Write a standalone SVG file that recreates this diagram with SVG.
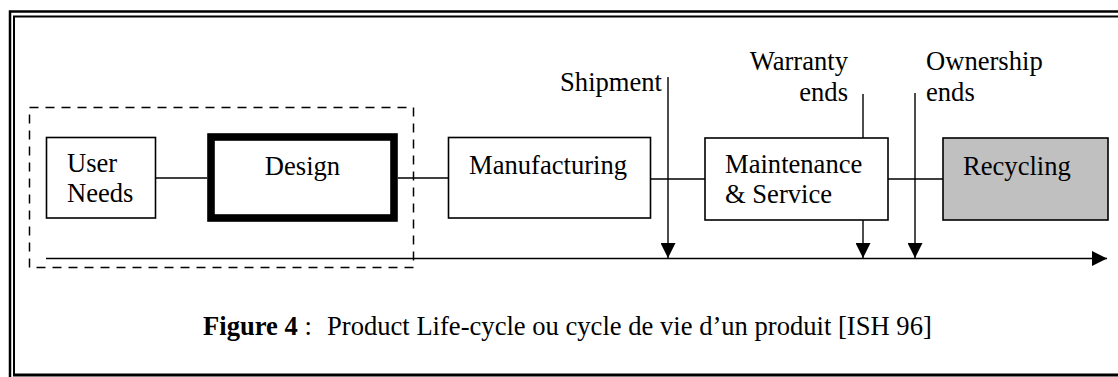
<svg xmlns="http://www.w3.org/2000/svg" width="1118" height="377" viewBox="0 0 1118 377">
  <style>
    text { font-family: "Liberation Serif", "Times New Roman", serif; font-size: 26.6px; fill: #000; }
    .box { fill: #fff; stroke: #000; stroke-width: 1.6; }
    .box.shaded { fill: #c0c0c0; }
    .link { stroke: #000; stroke-width: 1.4; fill: none; }
    .frame { stroke: #000; fill: none; }
  </style>
  <defs>
    <marker id="tri" viewBox="0 0 15 15" refX="15" refY="7.5" markerWidth="15" markerHeight="15" markerUnits="userSpaceOnUse" orient="auto">
      <path d="M0,0 L15,7.5 L0,15 Z" fill="#000"/>
    </marker>
  </defs>

  <rect width="1118" height="377" fill="#fff"/>

  <!-- double page frame -->
  <g id="frame">
    <path class="frame" stroke-width="2.5" d="M10,377 V11.5 H1118"/>
    <path class="frame" stroke-width="2" d="M14,375 V16.5 H1118"/>
    <path class="frame" stroke-width="3" d="M13,375 H1118"/>
  </g>

  <!-- dashed grouping around the early stages -->
  <rect id="early-stages" x="29.5" y="107.5" width="384" height="160" fill="none" stroke="#000" stroke-width="1.5" stroke-dasharray="9 7"/>

  <g id="connectors">
    <line class="link" stroke-width="1" x1="156" y1="178" x2="207" y2="178"/>
    <line class="link" x1="398" y1="178" x2="448" y2="178"/>
    <line class="link" x1="651" y1="179" x2="705" y2="179"/>
    <line class="link" x1="888" y1="179" x2="943" y2="179"/>
    <!-- time axis -->
    <line class="link" stroke-width="2" x1="46" y1="258.5" x2="1107" y2="258.5" marker-end="url(#tri)"/>
    <!-- milestone arrows -->
    <line class="link" stroke-width="1.6" x1="668" y1="77" x2="668" y2="258" marker-end="url(#tri)"/>
    <line class="link" stroke-width="1.6" x1="863" y1="94" x2="863" y2="138"/>
    <line class="link" stroke-width="1.6" x1="863" y1="220" x2="863" y2="258" marker-end="url(#tri)"/>
    <line class="link" stroke-width="1.6" x1="915" y1="93" x2="915" y2="258" marker-end="url(#tri)"/>
  </g>

  <g id="user-needs">
    <rect class="box" x="46.5" y="137.5" width="109" height="80.5"/>
    <text x="67" y="172">User</text>
    <text x="67" y="202">Needs</text>
  </g>

  <g id="design">
    <rect x="211" y="137" width="183" height="81" fill="#fff" stroke="#000" stroke-width="7.6"/>
    <text x="302.5" y="175" text-anchor="middle">Design</text>
  </g>

  <g id="manufacturing">
    <rect class="box" x="448.5" y="137.5" width="202" height="80.5"/>
    <text x="469" y="174">Manufacturing</text>
  </g>

  <g id="maintenance">
    <rect class="box" x="705" y="138" width="183" height="82"/>
    <text x="725" y="173">Maintenance</text>
    <text x="725" y="203">&amp; Service</text>
  </g>

  <g id="recycling">
    <rect class="box shaded" x="943" y="138" width="165" height="82"/>
    <text x="963" y="175">Recycling</text>
  </g>

  <g id="milestones">
    <text x="662" y="91" text-anchor="end">Shipment</text>
    <text x="848" y="70" text-anchor="end">Warranty</text>
    <text x="848" y="101" text-anchor="end">ends</text>
    <text x="926" y="70">Ownership</text>
    <text x="926" y="101">ends</text>
  </g>

  <g id="caption">
    <text x="203" y="335"><tspan font-weight="bold">Figure 4</tspan> :</text>
    <text x="327" y="335">Product Life-cycle ou cycle de vie d’un produit [ISH 96]</text>
  </g>
</svg>
